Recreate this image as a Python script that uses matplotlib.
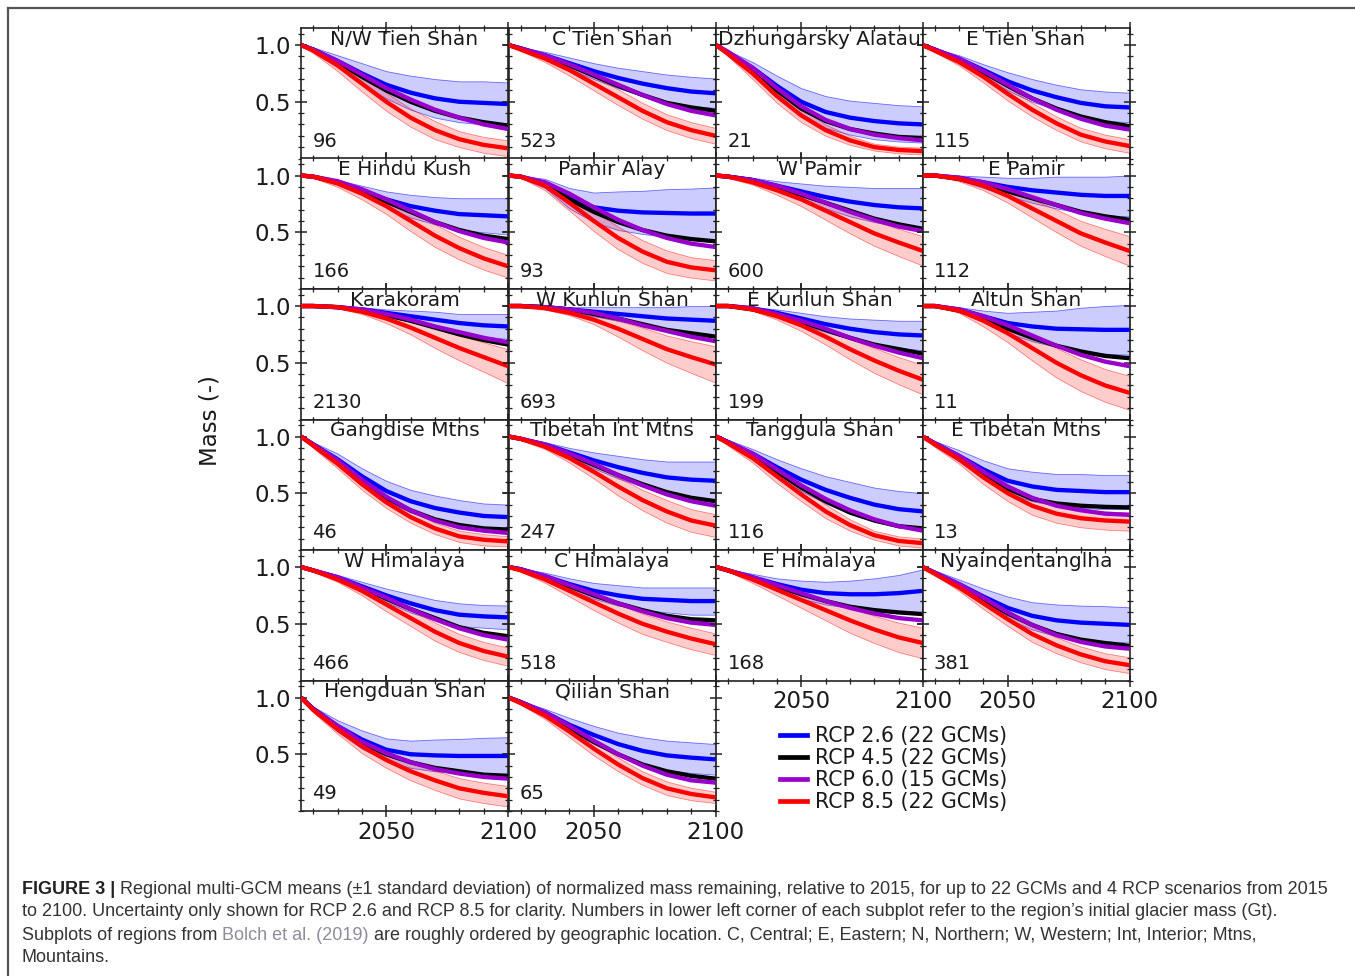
import numpy as np
import matplotlib
matplotlib.use("Agg")
import matplotlib.pyplot as plt
from matplotlib import font_manager
from matplotlib.lines import Line2D
from matplotlib.ticker import MultipleLocator, FixedLocator

# ── data (normalised mass) ──────────────────────────────────────────────────
YEARS = [2015, 2020, 2030, 2040, 2050, 2060, 2070, 2080, 2090, 2100]

REGIONS = ["N/W Tien Shan", "C Tien Shan", "Dzhungarsky Alatau", "E Tien Shan",
           "E Hindu Kush", "Pamir Alay", "W Pamir", "E Pamir",
           "Karakoram", "W Kunlun Shan", "E Kunlun Shan", "Altun Shan",
           "Gangdise Mtns", "Tibetan Int Mtns", "Tanggula Shan", "E Tibetan Mtns",
           "W Himalaya", "C Himalaya", "E Himalaya", "Nyainqentanglha",
           "Hengduan Shan", "Qilian Shan"]
MASS_GT = [96, 523, 21, 115, 166, 93, 600, 112, 2130, 693, 199, 11,
           46, 247, 116, 13, 466, 518, 168, 381, 49, 65]

RCP26 = [
    [1, 0.96, 0.86, 0.75, 0.65, 0.58, 0.53, 0.50, 0.49, 0.48],
    [1, 0.97, 0.91, 0.84, 0.77, 0.71, 0.66, 0.62, 0.59, 0.575],
    [1, 0.93, 0.80, 0.64, 0.50, 0.41, 0.36, 0.33, 0.31, 0.30],
    [1, 0.96, 0.88, 0.78, 0.68, 0.60, 0.54, 0.49, 0.46, 0.45],
    [1, 0.99, 0.94, 0.87, 0.79, 0.73, 0.69, 0.66, 0.65, 0.64],
    [1, 0.99, 0.93, 0.80, 0.72, 0.69, 0.675, 0.67, 0.665, 0.665],
    [1, 0.99, 0.96, 0.91, 0.86, 0.81, 0.77, 0.74, 0.72, 0.71],
    [1, 1.0, 0.98, 0.94, 0.90, 0.87, 0.85, 0.83, 0.82, 0.82],
    [1, 1.0, 0.99, 0.97, 0.94, 0.91, 0.88, 0.85, 0.83, 0.82],
    [1, 1.0, 0.99, 0.97, 0.95, 0.93, 0.91, 0.89, 0.88, 0.87],
    [1, 1.0, 0.98, 0.94, 0.89, 0.84, 0.80, 0.77, 0.75, 0.74],
    [1, 1.0, 0.97, 0.91, 0.85, 0.82, 0.80, 0.795, 0.79, 0.79],
    [1, 0.93, 0.80, 0.65, 0.52, 0.43, 0.37, 0.33, 0.30, 0.29],
    [1, 0.98, 0.93, 0.86, 0.79, 0.73, 0.68, 0.64, 0.62, 0.61],
    [1, 0.95, 0.85, 0.73, 0.62, 0.53, 0.46, 0.40, 0.36, 0.34],
    [1, 0.94, 0.83, 0.71, 0.61, 0.56, 0.53, 0.52, 0.51, 0.51],
    [1, 0.97, 0.91, 0.83, 0.75, 0.68, 0.62, 0.58, 0.565, 0.556],
    [1, 0.98, 0.92, 0.85, 0.79, 0.75, 0.72, 0.71, 0.70, 0.70],
    [1, 0.97, 0.91, 0.85, 0.80, 0.77, 0.76, 0.76, 0.77, 0.79],
    [1, 0.95, 0.85, 0.74, 0.64, 0.57, 0.53, 0.51, 0.50, 0.49],
    [1, 0.90, 0.75, 0.63, 0.54, 0.50, 0.49, 0.485, 0.485, 0.485],
    [1, 0.96, 0.87, 0.76, 0.67, 0.59, 0.53, 0.49, 0.47, 0.455],
]
STD26 = [
    [0, 0.02, 0.05, 0.09, 0.12, 0.15, 0.17, 0.18, 0.19, 0.19],
    [0, 0.01, 0.03, 0.05, 0.07, 0.09, 0.11, 0.12, 0.13, 0.13],
    [0, 0.02, 0.05, 0.09, 0.12, 0.14, 0.15, 0.16, 0.16, 0.16],
    [0, 0.01, 0.03, 0.05, 0.08, 0.10, 0.11, 0.12, 0.13, 0.13],
    [0, 0.01, 0.02, 0.04, 0.07, 0.10, 0.12, 0.14, 0.15, 0.16],
    [0, 0.01, 0.04, 0.09, 0.13, 0.17, 0.19, 0.21, 0.22, 0.23],
    [0, 0.01, 0.02, 0.04, 0.07, 0.10, 0.13, 0.15, 0.17, 0.18],
    [0, 0.0, 0.02, 0.05, 0.08, 0.11, 0.14, 0.16, 0.17, 0.18],
    [0, 0, 0.01, 0.02, 0.03, 0.05, 0.07, 0.08, 0.10, 0.11],
    [0, 0, 0.01, 0.02, 0.04, 0.06, 0.08, 0.10, 0.12, 0.13],
    [0, 0, 0.01, 0.03, 0.05, 0.07, 0.09, 0.11, 0.12, 0.13],
    [0, 0, 0.02, 0.05, 0.09, 0.13, 0.16, 0.19, 0.21, 0.22],
    [0, 0.02, 0.05, 0.07, 0.09, 0.10, 0.11, 0.11, 0.11, 0.11],
    [0, 0.01, 0.02, 0.04, 0.07, 0.10, 0.12, 0.14, 0.16, 0.17],
    [0, 0.02, 0.04, 0.07, 0.10, 0.12, 0.14, 0.15, 0.16, 0.16],
    [0, 0.02, 0.05, 0.08, 0.11, 0.13, 0.14, 0.15, 0.15, 0.15],
    [0, 0.01, 0.02, 0.04, 0.06, 0.08, 0.09, 0.10, 0.10, 0.105],
    [0, 0.01, 0.03, 0.05, 0.07, 0.09, 0.10, 0.11, 0.12, 0.12],
    [0, 0.01, 0.03, 0.05, 0.08, 0.10, 0.12, 0.14, 0.16, 0.19],
    [0, 0.02, 0.04, 0.07, 0.10, 0.12, 0.14, 0.15, 0.155, 0.155],
    [0, 0.02, 0.05, 0.08, 0.10, 0.12, 0.14, 0.15, 0.16, 0.165],
    [0, 0.01, 0.03, 0.06, 0.08, 0.10, 0.12, 0.13, 0.135, 0.135],
]
RCP45 = [
    [1, 0.96, 0.85, 0.72, 0.60, 0.50, 0.42, 0.36, 0.32, 0.29],
    [1, 0.97, 0.90, 0.82, 0.73, 0.64, 0.56, 0.49, 0.45, 0.42],
    [1, 0.93, 0.78, 0.60, 0.44, 0.33, 0.26, 0.22, 0.19, 0.18],
    [1, 0.96, 0.87, 0.76, 0.64, 0.53, 0.44, 0.37, 0.32, 0.285],
    [1, 0.99, 0.94, 0.86, 0.77, 0.68, 0.59, 0.52, 0.47, 0.44],
    [1, 0.99, 0.92, 0.79, 0.68, 0.59, 0.52, 0.47, 0.44, 0.42],
    [1, 0.99, 0.96, 0.90, 0.83, 0.76, 0.69, 0.62, 0.57, 0.53],
    [1, 1.0, 0.97, 0.92, 0.86, 0.80, 0.74, 0.68, 0.64, 0.61],
    [1, 1.0, 0.99, 0.96, 0.92, 0.87, 0.81, 0.75, 0.70, 0.66],
    [1, 1.0, 0.99, 0.97, 0.93, 0.89, 0.84, 0.79, 0.76, 0.73],
    [1, 1.0, 0.97, 0.92, 0.86, 0.79, 0.72, 0.66, 0.62, 0.58],
    [1, 1.0, 0.96, 0.89, 0.80, 0.72, 0.65, 0.60, 0.56, 0.54],
    [1, 0.93, 0.78, 0.61, 0.46, 0.35, 0.27, 0.22, 0.19, 0.18],
    [1, 0.98, 0.92, 0.84, 0.75, 0.66, 0.58, 0.51, 0.46, 0.43],
    [1, 0.95, 0.83, 0.69, 0.55, 0.43, 0.33, 0.26, 0.21, 0.19],
    [1, 0.94, 0.82, 0.67, 0.54, 0.45, 0.41, 0.39, 0.38, 0.375],
    [1, 0.97, 0.90, 0.82, 0.72, 0.63, 0.55, 0.47, 0.42, 0.39],
    [1, 0.98, 0.91, 0.83, 0.75, 0.68, 0.62, 0.57, 0.54, 0.53],
    [1, 0.97, 0.90, 0.83, 0.76, 0.70, 0.65, 0.62, 0.60, 0.585],
    [1, 0.95, 0.84, 0.71, 0.59, 0.49, 0.41, 0.36, 0.33, 0.305],
    [1, 0.90, 0.74, 0.60, 0.50, 0.43, 0.38, 0.35, 0.32, 0.31],
    [1, 0.96, 0.86, 0.73, 0.61, 0.50, 0.41, 0.35, 0.31, 0.285],
]
RCP60 = [
    [1, 0.96, 0.86, 0.74, 0.62, 0.52, 0.43, 0.36, 0.30, 0.26],
    [1, 0.97, 0.91, 0.83, 0.74, 0.65, 0.56, 0.48, 0.42, 0.38],
    [1, 0.94, 0.80, 0.62, 0.46, 0.34, 0.26, 0.21, 0.18, 0.16],
    [1, 0.96, 0.88, 0.77, 0.65, 0.53, 0.43, 0.35, 0.29, 0.255],
    [1, 0.99, 0.95, 0.88, 0.79, 0.69, 0.59, 0.51, 0.45, 0.41],
    [1, 0.99, 0.94, 0.84, 0.72, 0.61, 0.52, 0.45, 0.40, 0.37],
    [1, 0.99, 0.96, 0.91, 0.84, 0.76, 0.68, 0.61, 0.55, 0.51],
    [1, 1.0, 0.98, 0.94, 0.88, 0.81, 0.74, 0.67, 0.62, 0.58],
    [1, 1.0, 0.99, 0.97, 0.93, 0.88, 0.82, 0.77, 0.72, 0.68],
    [1, 1.0, 0.99, 0.97, 0.94, 0.89, 0.83, 0.78, 0.73, 0.69],
    [1, 1.0, 0.98, 0.93, 0.87, 0.80, 0.72, 0.65, 0.59, 0.54],
    [1, 1.0, 0.97, 0.91, 0.83, 0.74, 0.65, 0.57, 0.51, 0.47],
    [1, 0.93, 0.79, 0.62, 0.47, 0.35, 0.26, 0.20, 0.17, 0.15],
    [1, 0.98, 0.93, 0.85, 0.76, 0.66, 0.57, 0.49, 0.43, 0.39],
    [1, 0.95, 0.85, 0.71, 0.57, 0.45, 0.35, 0.27, 0.21, 0.17],
    [1, 0.94, 0.83, 0.69, 0.56, 0.46, 0.39, 0.35, 0.32, 0.31],
    [1, 0.97, 0.91, 0.82, 0.73, 0.63, 0.54, 0.46, 0.40, 0.36],
    [1, 0.98, 0.92, 0.84, 0.76, 0.68, 0.61, 0.55, 0.51, 0.49],
    [1, 0.97, 0.91, 0.84, 0.77, 0.70, 0.64, 0.59, 0.55, 0.53],
    [1, 0.95, 0.85, 0.73, 0.60, 0.49, 0.40, 0.34, 0.30, 0.28],
    [1, 0.90, 0.75, 0.61, 0.51, 0.43, 0.37, 0.33, 0.30, 0.285],
    [1, 0.96, 0.87, 0.75, 0.62, 0.50, 0.40, 0.32, 0.27, 0.25],
]
RCP85 = [
    [1, 0.95, 0.82, 0.66, 0.50, 0.36, 0.25, 0.17, 0.12, 0.09],
    [1, 0.96, 0.88, 0.78, 0.66, 0.54, 0.42, 0.32, 0.25, 0.20],
    [1, 0.92, 0.75, 0.55, 0.38, 0.25, 0.16, 0.10, 0.075, 0.065],
    [1, 0.95, 0.85, 0.72, 0.57, 0.43, 0.31, 0.21, 0.15, 0.11],
    [1, 0.99, 0.93, 0.84, 0.73, 0.60, 0.47, 0.36, 0.27, 0.20],
    [1, 0.99, 0.91, 0.76, 0.60, 0.45, 0.33, 0.24, 0.19, 0.165],
    [1, 0.99, 0.94, 0.87, 0.79, 0.69, 0.59, 0.49, 0.41, 0.335],
    [1, 1.0, 0.97, 0.91, 0.82, 0.71, 0.60, 0.49, 0.41, 0.335],
    [1, 1.0, 0.99, 0.95, 0.89, 0.81, 0.72, 0.63, 0.55, 0.47],
    [1, 1.0, 0.98, 0.94, 0.88, 0.80, 0.71, 0.62, 0.55, 0.485],
    [1, 1.0, 0.97, 0.91, 0.83, 0.73, 0.62, 0.52, 0.43, 0.35],
    [1, 1.0, 0.96, 0.87, 0.76, 0.63, 0.50, 0.39, 0.30, 0.235],
    [1, 0.92, 0.76, 0.58, 0.42, 0.29, 0.19, 0.12, 0.09, 0.076],
    [1, 0.98, 0.91, 0.81, 0.69, 0.56, 0.44, 0.34, 0.26, 0.215],
    [1, 0.94, 0.81, 0.65, 0.49, 0.34, 0.22, 0.13, 0.08, 0.06],
    [1, 0.93, 0.80, 0.64, 0.50, 0.39, 0.32, 0.28, 0.26, 0.25],
    [1, 0.97, 0.89, 0.79, 0.67, 0.55, 0.43, 0.33, 0.26, 0.21],
    [1, 0.97, 0.89, 0.79, 0.69, 0.59, 0.50, 0.43, 0.37, 0.32],
    [1, 0.97, 0.89, 0.80, 0.71, 0.62, 0.53, 0.45, 0.38, 0.33],
    [1, 0.94, 0.82, 0.68, 0.54, 0.41, 0.31, 0.23, 0.17, 0.135],
    [1, 0.89, 0.72, 0.57, 0.45, 0.35, 0.27, 0.20, 0.16, 0.13],
    [1, 0.95, 0.84, 0.70, 0.55, 0.41, 0.29, 0.20, 0.15, 0.12],
]
STD85 = [
    [0, 0.02, 0.05, 0.07, 0.08, 0.08, 0.08, 0.07, 0.07, 0.07],
    [0, 0.01, 0.03, 0.05, 0.06, 0.07, 0.07, 0.07, 0.07, 0.07],
    [0, 0.02, 0.05, 0.06, 0.06, 0.05, 0.04, 0.03, 0.03, 0.03],
    [0, 0.01, 0.03, 0.05, 0.06, 0.06, 0.06, 0.06, 0.06, 0.06],
    [0, 0.01, 0.03, 0.05, 0.07, 0.09, 0.10, 0.10, 0.10, 0.10],
    [0, 0.01, 0.04, 0.07, 0.09, 0.10, 0.10, 0.10, 0.09, 0.09],
    [0, 0.01, 0.02, 0.04, 0.06, 0.08, 0.10, 0.11, 0.12, 0.13],
    [0, 0.0, 0.02, 0.04, 0.06, 0.08, 0.10, 0.11, 0.12, 0.13],
    [0, 0, 0.01, 0.02, 0.04, 0.06, 0.09, 0.11, 0.13, 0.15],
    [0, 0, 0.01, 0.02, 0.04, 0.07, 0.10, 0.12, 0.14, 0.16],
    [0, 0, 0.01, 0.03, 0.05, 0.07, 0.09, 0.11, 0.12, 0.13],
    [0, 0, 0.02, 0.05, 0.08, 0.11, 0.13, 0.14, 0.145, 0.15],
    [0, 0.02, 0.04, 0.05, 0.05, 0.05, 0.05, 0.05, 0.05, 0.045],
    [0, 0.01, 0.02, 0.04, 0.06, 0.08, 0.09, 0.10, 0.10, 0.10],
    [0, 0.02, 0.04, 0.06, 0.06, 0.06, 0.05, 0.04, 0.04, 0.04],
    [0, 0.02, 0.04, 0.06, 0.07, 0.08, 0.08, 0.08, 0.08, 0.08],
    [0, 0.01, 0.02, 0.04, 0.06, 0.07, 0.08, 0.08, 0.08, 0.08],
    [0, 0.01, 0.03, 0.05, 0.07, 0.08, 0.09, 0.09, 0.095, 0.095],
    [0, 0.01, 0.03, 0.05, 0.07, 0.09, 0.11, 0.12, 0.13, 0.135],
    [0, 0.01, 0.03, 0.05, 0.06, 0.07, 0.07, 0.07, 0.07, 0.07],
    [0, 0.02, 0.04, 0.06, 0.07, 0.08, 0.085, 0.09, 0.09, 0.09],
    [0, 0.01, 0.03, 0.05, 0.06, 0.06, 0.06, 0.06, 0.055, 0.05],
]

LEGEND_LABELS = ["RCP 2.6 (22 GCMs)", "RCP 4.5 (22 GCMs)",
                 "RCP 6.0 (15 GCMs)", "RCP 8.5 (22 GCMs)"]
COLORS = ["#0000ff", "#000000", "#9900cc", "#ff0000"]

CAPTION_BOLD = "FIGURE 3 |"
CAPTION_LINES = [
    " Regional multi-GCM means (\u00b11 standard deviation) of normalized mass remaining, "
    "relative to 2015, for up to 22 GCMs and 4 RCP scenarios from 2015",
    "to 2100. Uncertainty only shown for RCP 2.6 and RCP 8.5 for clarity. Numbers in lower "
    "left corner of each subplot refer to the region\u2019s initial glacier mass (Gt).",
    ("Subplots of regions from ", "Bolch et al. (2019)",
     " are roughly ordered by geographic location. C, Central; E, Eastern; N, Northern; "
     "W, Western; Int, Interior; Mtns,"),
    "Mountains.",
]

# ── layout ─────────────────────────────────────────────────────────────────
W, H = 1355, 976
fig = plt.figure(figsize=(W / 100, H / 100), dpi=100)
plt.rcParams["font.family"] = "DejaVu Sans"

COL_X = [301, 508.5, 716, 922.5]
AX_W = 207
ROW_TOP = 28
ROW_H = 130.5
YLIM = (0, 1.15)
x = np.array(YEARS)

axes = []
for i, name in enumerate(REGIONS):
    row, col = divmod(i, 4)
    top = ROW_TOP + row * ROW_H
    ax = fig.add_axes([COL_X[col] / W, 1 - (top + ROW_H) / H, AX_W / W, ROW_H / H])
    axes.append(ax)

    m26, s26 = np.array(RCP26[i]), np.array(STD26[i])
    m85, s85 = np.array(RCP85[i]), np.array(STD85[i])
    ax.fill_between(x, m26 - s26, m26 + s26, facecolor=(0, 0, 1, 0.2),
                    edgecolor=(0, 0, 1, 0.55), lw=0.6, zorder=1)
    ax.fill_between(x, m85 - s85, m85 + s85, facecolor=(1, 0, 0, 0.2),
                    edgecolor=(1, 0, 0, 0.45), lw=0.6, zorder=1)
    for vals, c, lab in zip([RCP26[i], RCP45[i], RCP60[i], RCP85[i]], COLORS, LEGEND_LABELS):
        ax.plot(x, vals, color=c, lw=3.1, label=lab, zorder=3, solid_capstyle="butt",
                solid_joinstyle="round")

    ax.set_xlim(2015, 2100)
    ax.set_ylim(*YLIM)
    ax.xaxis.set_major_locator(FixedLocator([2050, 2100]))
    ax.xaxis.set_minor_locator(MultipleLocator(10))
    ax.yaxis.set_major_locator(FixedLocator([0.5, 1.0]))
    ax.yaxis.set_minor_locator(MultipleLocator(0.1))
    ax.tick_params(which="both", direction="inout", top=True, right=True,
                   color="#222222", labelsize=16.5, labelcolor="#1a1a1a")
    ax.tick_params(which="major", length=8, width=1.1, pad=3)
    ax.tick_params(which="minor", length=5, width=0.9)
    ax.set_yticklabels(["0.5", "1.0"])
    ax.set_xticklabels(["2050", "2100"])
    if col != 0:
        ax.tick_params(labelleft=False)
    bottom_panel = (row == 5) or (row == 4 and col >= 2)
    if not bottom_panel:
        ax.tick_params(labelbottom=False)
    for sp in ax.spines.values():
        sp.set_linewidth(1.2)
        sp.set_color("#222222")

    ax.text(0.5, 0.985, name, transform=ax.transAxes, ha="center", va="top",
            fontsize=14.5, color="#1a1a1a", zorder=5)
    ax.text(0.055, 0.06, str(MASS_GT[i]), transform=ax.transAxes, ha="left",
            va="bottom", fontsize=14, color="#1a1a1a", zorder=5)

fig.text(210 / W, 1 - 421 / H, "Mass (-)", rotation=90, ha="center", va="center",
         fontsize=16.5, color="#1a1a1a")

handles = [Line2D([], [], color=c, lw=3.4) for c in COLORS]
fig.legend(handles, LEGEND_LABELS, loc="upper left",
           bbox_to_anchor=(770 / W, 1 - 716 / H), frameon=False, fontsize=14.8,
           borderpad=0, handlelength=1.3, handletextpad=0.4, labelspacing=0.1,
           labelcolor="#1a1a1a")

# ── frame around the figure ────────────────────────────────────────────────
fig.add_artist(Line2D([8 / W, 8 / W], [0, 1 - 8 / H], transform=fig.transFigure,
                      color="#555555", lw=1.6))
fig.add_artist(Line2D([8 / W, 1], [1 - 8 / H, 1 - 8 / H], transform=fig.transFigure,
                      color="#555555", lw=1.6))

# ── caption ────────────────────────────────────────────────────────────────
names = {f.name for f in font_manager.fontManager.ttflist}
cap_font = "Liberation Sans Narrow" if "Liberation Sans Narrow" in names else "Liberation Sans"
cap_color = "#333333"
link_color = "#8c8c9c"
renderer = fig.canvas.get_renderer()


def text_width(t):
    return t.get_window_extent(renderer=renderer).width


# size chosen so that the first line spans the same width as in the print
probe = fig.text(0, 0, CAPTION_BOLD + CAPTION_LINES[0], fontsize=10, family=cap_font)
cap_size = 10 * (1335 - 22) / text_width(probe)
probe.remove()

LINE_Y = [889, 912, 935, 958]
x0 = 22 / W
for k, line in enumerate(CAPTION_LINES):
    yy = 1 - LINE_Y[k] / H
    xx = x0
    if k == 0:
        t = fig.text(xx, yy, CAPTION_BOLD, fontsize=cap_size, family=cap_font,
                     weight="bold", color="#222222", va="center")
        xx += text_width(t) / W
        fig.text(xx, yy, line, fontsize=cap_size, family=cap_font, color=cap_color, va="center")
    elif isinstance(line, tuple):
        for piece, c in zip(line, [cap_color, link_color, cap_color]):
            t = fig.text(xx, yy, piece, fontsize=cap_size, family=cap_font, color=c, va="center")
            xx += text_width(t) / W
    else:
        fig.text(xx, yy, line, fontsize=cap_size, family=cap_font, color=cap_color, va="center")

fig.savefig("out.png", dpi=100)
